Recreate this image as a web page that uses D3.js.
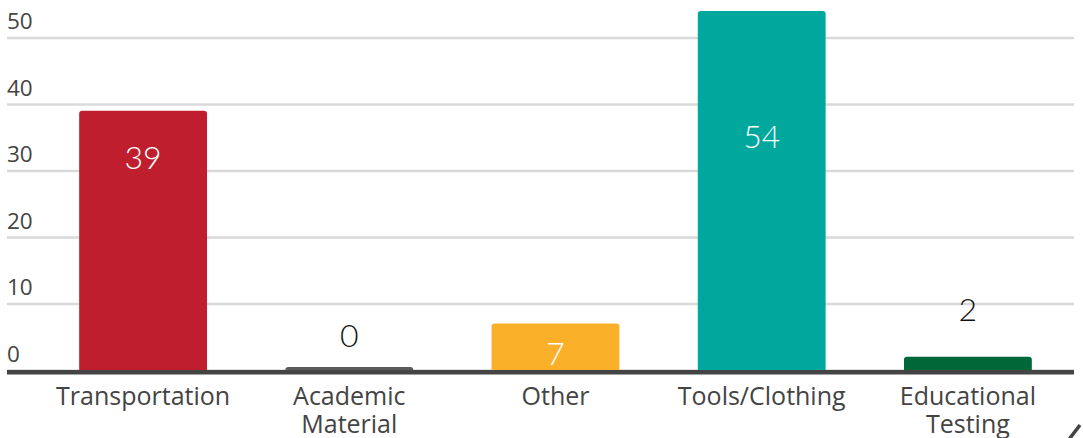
<!DOCTYPE html>
<html>
<head>
<meta charset="utf-8">
<script src="https://cdn.jsdelivr.net/npm/d3@7"></script>
<style>
  body { margin: 0; background: #fff; }
  .tick-label { font-family: "Open Sans", sans-serif; fill: #444; }
  .cat-label { font-family: "Open Sans", sans-serif; fill: #444; }
  .val-label { font-family: "Lato", sans-serif; font-weight: 300; }
</style>
</head>
<body>
<div class="barchart"></div>
<script>
// data
var categories = ["Transportation", "Academic Material", "Other", "Tools/Clothing", "Educational Testing"]
var values = [39, 0, 7, 54, 2]
var barColors = ["#be1e2d", "#5a5a5a", "#fbb02a", "#00a79d", "#006838"]
// where each value label sits, in value units
var labelAt = [31.9, 5.1, 2.4, 35, 9]
var yTicks = [0, 10, 20, 30, 40, 50]

var width = 1083, height = 438

var x = d3.scaleBand()
    .domain(categories)
    .range([40, 1071])
    .paddingInner(0.38)
    .paddingOuter(0.19)

var y = d3.scaleLinear().domain([0, 50]).range([370, 37.5])

var svg = d3.select(".barchart")
    .append("svg")
        .attr("width", width)
        .attr("height", height)

// gridlines + tick labels
var yAxis = d3.axisRight(y).tickValues(yTicks).tickSize(1067)
var gy = svg.append("g")
    .attr("transform", "translate(7,0)")
    .call(yAxis)
gy.select(".domain").remove()
gy.selectAll(".tick line")
    .attr("stroke", "#d9d9d9")
    .attr("stroke-width", 2.5)
gy.selectAll(".tick text")
    .attr("class", "tick-label")
    .attr("x", 0)
    .attr("dy", -9)
    .style("text-anchor", "start")
    .style("font-size", "22.5px")
    .style("font-family", "'Open Sans', sans-serif")
    .attr("fill", "#444")

function topRounded(x0, y0, w, h, r) {
    r = Math.min(r, h, w / 2)
    return "M" + x0 + "," + (y0 + h) +
        "V" + (y0 + r) +
        "Q" + x0 + "," + y0 + " " + (x0 + r) + "," + y0 +
        "H" + (x0 + w - r) +
        "Q" + (x0 + w) + "," + y0 + " " + (x0 + w) + "," + (y0 + r) +
        "V" + (y0 + h) + "Z"
}

var data = categories.map((c, i) => ({cat: c, value: values[i], color: barColors[i], lab: labelAt[i]}))

svg.selectAll(".bar")
    .data(data)
    .enter().append("path")
    .attr("class", "bar")
    .attr("fill", d => d.color)
    .attr("d", d => {
        var top = Math.min(y(d.value), y(0) - 3)
        return topRounded(x(d.cat), top, x.bandwidth(), y(0) - top, 3)
    })

// baseline
svg.append("line")
    .attr("x1", 7).attr("x2", 1074)
    .attr("y1", y(0) + 2.2).attr("y2", y(0) + 2.2)
    .attr("stroke", "#444")
    .attr("stroke-width", 4.5)

// value labels
svg.selectAll(".val-label")
    .data(data)
    .enter().append("text")
    .attr("class", "val-label")
    .attr("x", d => x(d.cat) + x.bandwidth() / 2)
    .attr("y", d => y(d.lab))
    .attr("dy", "0.35em")
    .style("text-anchor", "middle")
    .style("font-size", "32px")
    .attr("fill", d => d.lab < d.value ? "#fff" : "#111")
    .text(d => d.value)

// category labels
var xAxis = d3.axisBottom(x).tickSize(0)
var gx = svg.append("g")
    .attr("transform", "translate(0," + y(0) + ")")
    .call(xAxis)
gx.select(".domain").remove()
gx.selectAll(".tick text").each(function(d) {
    var t = d3.select(this)
    var words = d.split(" ")
    t.text(null)
        .attr("class", "cat-label")
        .attr("y", 0)
        .attr("dy", null)
        .style("font-size", "25px")
        .style("font-family", "'Open Sans', sans-serif")
        .attr("fill", "#444")
    words.forEach((w, i) => {
        t.append("tspan")
            .attr("x", 0)
            .attr("y", 35 + i * 28)
            .text(w)
    })
})

// carousel arrow, cut off at the corner
svg.append("path")
    .attr("d", "M1080,425 L1067,442")
    .attr("stroke", "#444")
    .attr("stroke-width", 3.5)
    .attr("fill", "none")
</script>
</body>
</html>
